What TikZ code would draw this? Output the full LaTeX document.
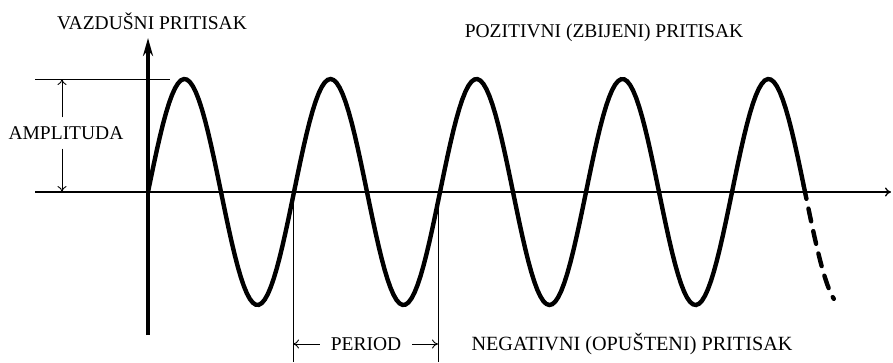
\documentclass[tikz,border=0pt]{standalone}
\usepackage{fontspec}
\setmainfont{Liberation Serif}
\usepackage{tikz}
\usetikzlibrary{arrows.meta, positioning, calc}

\tikzset{
    lbl/.style={font=\fontsize{19.5}{22}\selectfont, inner sep=1pt},
    wave/.style={line width=4.4pt, line cap=round},
    thin/.style={line width=0.9pt}
}

\begin{document}
\begin{tikzpicture}[x=1pt, y=-1pt]
    \useasboundingbox (0,0) rectangle (893,362);

    % Axes
    \coordinate (xs) at (35,192);
    \coordinate (xe) at (891,192);
    \coordinate (ys) at (148,335);
    \coordinate (ye) at (148,38);
    \draw[line width=1.3pt, -{To[length=6pt, width=9pt]}] (xs) -- (xe);
    \draw[line width=3.4pt, -{Stealth[length=18pt, width=10pt]}] (ys) -- (ye);
    \node[lbl] (ytitle) at (152,21) {VAZDUŠNI PRITISAK};

    % Amplitude
    \coordinate (atl) at (35,79);
    \coordinate (atr) at (170,79);
    \draw[thin] (atl) -- (atr);
    \node[lbl] (amp) at (66,133) {AMPLITUDA};
    \coordinate (atop) at (62,79);
    \coordinate (abot) at (62,192);
    \draw[thin, -{To[length=6pt, width=9pt]}] ($(amp.north)+(-4,-8)$) coordinate (a1) -- (atop);
    \draw[thin, -{To[length=6pt, width=9pt]}] ($(amp.south)+(-4,8)$) coordinate (a2) -- (abot);

    % Pressure wave (t in degrees, period 146)
    \draw[wave, domain=0:1617, samples=220, variable=\t]
        plot ({148+\t*0.405556}, {192-113*sin(\t)});
    \draw[wave, dash pattern=on 13pt off 10pt, domain=1617:1691, samples=30, variable=\t]
        plot ({148+\t*0.405556}, {192-113*sin(\t)});
    \node[lbl] (pos) at (604,33) {POZITIVNI (ZBIJENI) PRITISAK};
    \node[lbl, font=\fontsize{20.2}{22}\selectfont] (neg) at (632,344) {NEGATIVNI (OPUŠTENI) PRITISAK};

    % Period
    \coordinate (p1t) at (293,192);
    \coordinate (p1b) at (293,362);
    \coordinate (p2t) at (438,192);
    \coordinate (p2b) at (438,362);
    \draw[thin] (p1t) -- (p1b);
    \draw[thin] (p2t) -- (p2b);
    \node[lbl] (per) at (366,344) {PERIOD};
    \draw[thin, -{To[length=6pt, width=9pt]}] ($(per.west)+(-10,0)$) -- (p1t |- per.west);
    \draw[thin, -{To[length=6pt, width=9pt]}] ($(per.east)+(10,0)$) -- (p2t |- per.east);
\end{tikzpicture}
\end{document}
